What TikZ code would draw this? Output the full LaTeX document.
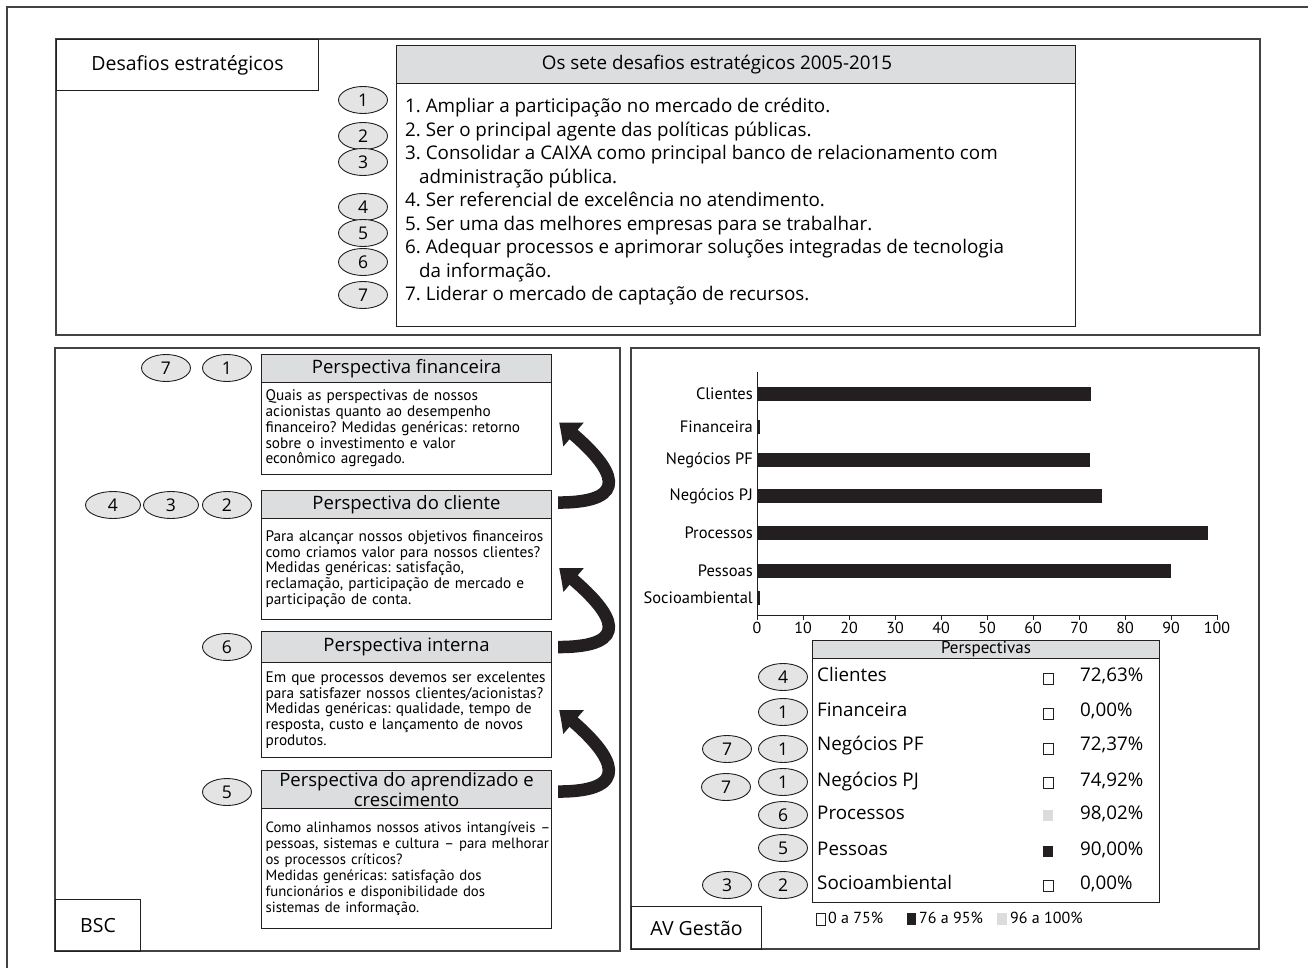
\documentclass[tikz,border=0pt]{standalone}
\usepackage{fontspec}
\setmainfont{Open Sans}
\newfontfamily\cond{PT Sans}
\usetikzlibrary{arrows.meta,bending,shapes.geometric}
\definecolor{ink}{HTML}{231F20}
\definecolor{hdr}{HTML}{DCDDDE}
\definecolor{ovl}{HTML}{E4E4E4}
\definecolor{lgray}{HTML}{DCDCDC}
\newcommand\lin[1]{\mbox{#1}}
\tikzset{
  panel/.style={draw=ink!85, line width=1.4pt},
  lbox/.style={draw=ink, line width=1.1pt, rectangle, inner sep=0, anchor=north west, font=\fontsize{19.5}{20}\selectfont},
  hdrbox/.style={draw=ink, line width=1.1pt, fill=hdr, rectangle, inner sep=0, anchor=north west, align=center, font=\fontsize{18.5}{17}\selectfont},
  pbox/.style={draw=ink, line width=1.1pt, rectangle, inner ysep=0, inner xsep=4, text width=282, anchor=north west, align=left, font=\cond\fontsize{15.3}{15.7}\selectfont},
  oval/.style={ellipse, draw=ink, line width=0.9pt, fill=ovl, minimum width=49, minimum height=27, inner sep=0, font=\fontsize{17.5}{17}\selectfont},
  bigarr/.style={draw=ink, line width=12.5pt, -{Triangle[width=30pt,length=19pt,bend]}},
  barlab/.style={anchor=east, inner sep=0, font=\cond\fontsize{16.5}{17}\selectfont},
  ticklab/.style={anchor=north, inner sep=0, font=\cond\fontsize{16}{16}\selectfont},
  rowlab/.style={anchor=west, inner sep=0, text height=13.2, text depth=3.8, font=\fontsize{18.8}{19}\selectfont},
  leglab/.style={anchor=west, inner sep=0, text height=11, text depth=3, font=\cond\fontsize{16}{16}\selectfont},
}
\begin{document}
\frenchspacing
\begin{tikzpicture}[x=1pt,y=-1pt]
\path[use as bounding box] (0,0) rectangle (1308,968);
% outer frame (cropped)
\draw[panel] (7,968) -- (7,7) -- (1308,7);

% ---------- top panel ----------
\draw[panel] (56,39) rectangle (1260,335);
\node[lbox, minimum width=262, minimum height=51] (desaf) at (56,39) {Desafios estratégicos};
\node[hdrbox, minimum width=679, minimum height=38, font=\fontsize{18.8}{18}\selectfont] (oshdr) at (396,45) {\hspace*{-38pt}Os sete desafios estratégicos 2005-2015};
\node[lbox, minimum width=679, minimum height=243] (osbox) at (396,83) {};
\node[anchor=north west, inner sep=0, align=left, font=\fontsize{18.8}{23.5}\selectfont] (list) at (405,98) {%
1. Ampliar a participação no mercado de crédito.\\
2. Ser o principal agente das políticas públicas.\\
3. Consolidar a CAIXA como principal banco de relacionamento com\\
\hspace*{14pt}administração pública.\\
4. Ser referencial de excelência no atendimento.\\
5. Ser uma das melhores empresas para se trabalhar.\\
6. Adequar processos e aprimorar soluções integradas de tecnologia\\
\hspace*{14pt}da informação.\\
7. Liderar o mercado de captação de recursos.};
\node[oval] (t1) at (363,100) {1};
\node[oval] (t2) at (363,136) {2};
\node[oval] (t3) at (363,162) {3};
\node[oval] (t4) at (363,207) {4};
\node[oval] (t5) at (363,233) {5};
\node[oval] (t6) at (363,262) {6};
\node[oval] (t7) at (363,295) {7};

% ---------- left panel (BSC) ----------
\draw[panel] (55,348) rectangle (620,951);
\node[lbox, minimum width=85, minimum height=52] (bsc) at (55,899) {BSC};

\node[hdrbox, minimum width=290, minimum height=28] (finH) at (261,354) {Perspectiva financeira};
\node[pbox, minimum height=92] (finC) at (261,382) {%
\lin{Quais as perspectivas de nossos}\\
\lin{acionistas quanto ao desempenho}\\
\lin{financeiro? Medidas genéricas: retorno}\\
\lin{sobre o investimento e valor}\\
\lin{econômico agregado.}};
\node[hdrbox, minimum width=290, minimum height=28] (cliH) at (261,490) {Perspectiva do cliente};
\node[pbox, minimum height=101] (cliC) at (261,518) {%
\lin{Para alcançar nossos objetivos financeiros}\\
\lin{como criamos valor para nossos clientes?}\\
\lin{Medidas genéricas: satisfação,}\\
\lin{reclamação, participação de mercado e}\\
\lin{participação de conta.}};
\node[hdrbox, minimum width=290, minimum height=31] (intH) at (261,631) {Perspectiva interna};
\node[pbox, minimum height=95] (intC) at (261,662) {%
\lin{Em que processos devemos ser excelentes}\\
\lin{para satisfazer nossos clientes/acionistas?}\\
\lin{Medidas genéricas: qualidade, tempo de}\\
\lin{resposta, custo e lançamento de novos}\\
\lin{produtos.}};
\node[hdrbox, minimum width=290, minimum height=38] (aprH) at (261,770) {Perspectiva do aprendizado e\\crescimento};
\node[pbox, minimum height=120, font=\cond\fontsize{14.8}{16}\selectfont] (aprC) at (261,808) {%
\lin{Como alinhamos nossos ativos intangíveis –}\\
\lin{pessoas, sistemas e cultura – para melhorar}\\
\lin{os processos críticos?}\\
\lin{Medidas genéricas: satisfação dos}\\
\lin{funcionários e disponibilidade dos}\\
\lin{sistemas de informação.}};

\node[oval] (f7) at (166,368) {7};
\node[oval] (f1) at (227,368) {1};
\node[oval, minimum width=55] (c4) at (113,505) {4};
\node[oval, minimum width=55] (c3) at (171,505) {3};
\node[oval] (c2) at (227,505) {2};
\node[oval] (i6) at (227,647) {6};
\node[oval] (a5) at (227,792) {5};

\draw[bigarr] ([xshift=6,yshift=2]cliH.east) .. controls +(84,0) and +(48,38) .. ([xshift=7,yshift=6]finC.east);
\draw[bigarr] ([xshift=6]intH.east) .. controls +(84,0) and +(48,38) .. ([xshift=7,yshift=1]cliC.east);
\draw[bigarr] ([xshift=6,yshift=-2]aprH.east) .. controls +(84,0) and +(48,38) .. ([xshift=7]intC.east);

% ---------- right panel (AV Gestao) ----------
\draw[panel] (631,348) rectangle (1259,949);
\node[lbox, minimum width=130, minimum height=43] (avg) at (631,906) {AV Gestão};

% bar chart
\foreach \y/\v/\l in {394/72.63/Clientes, 427/0.7/Financeira, 460/72.37/Negócios PF, 496/74.92/Negócios PJ, 533/98.02/Processos, 571/90/Pessoas, 598/0.7/Socioambiental}{
  \fill[ink] (757,\y-7) rectangle ({757+4.6*\v},\y+7);
  \node[barlab] at (753,\y) {\l};
}
\draw[ink, line width=1pt] (757,372) -- (757,615) -- (1217,615);
\foreach \i in {0,...,10}{
  \draw[ink, line width=1pt] (757+46*\i,615) -- ++(0,5);
  \pgfmathtruncatemacro{\t}{10*\i}
  \node[ticklab] at (757+46*\i,622) {\t};
}

% table
\node[hdrbox, line width=1pt, minimum width=347, minimum height=18, font=\cond\fontsize{17}{15}\selectfont] (tabH) at (812,640) {Perspectivas};
\node[lbox, line width=1pt, minimum width=347, minimum height=244] (tabB) at (812,658) {};
\foreach \y/\l/\p in {677/Clientes/{72,63}, 712/Financeira/{0,00}, 746/Negócios PF/{72,37}, 782/Negócios PJ/{74,92}, 815/Processos/{98,02}, 851/Pessoas/{90,00}, 885/Socioambiental/{0,00}}{
  \node[rowlab] at (817,\y) {\l};
  \node[rowlab] at (1080,\y) {\p\%};
}
\foreach \y in {678,713,748,782,885}{
  \draw[ink, line width=0.8pt] (1043,\y-5) rectangle (1053,\y+6);
}
\fill[lgray] (1043,810) rectangle (1053,821);
\fill[ink] (1043,846) rectangle (1053,857);

\node[oval] (r4) at (783,677) {4};
\node[oval] (r1a) at (783,712) {1};
\node[oval] (r7a) at (727,749) {7};
\node[oval] (r1b) at (783,749) {1};
\node[oval] (r7b) at (726,787) {7};
\node[oval] (r1c) at (783,782) {1};
\node[oval] (r6) at (783,815) {6};
\node[oval] (r5) at (783,848) {5};
\node[oval] (r3) at (727,885) {3};
\node[oval] (r2) at (783,885) {2};

% legend
\draw[ink, line width=0.8pt] (816,913) rectangle (825,925);
\node[leglab] (lg1) at (828,919) {0 a 75\%};
\fill[ink] (907,913) rectangle (916,925);
\node[leglab] (lg2) at (919,919) {76 a 95\%};
\fill[lgray] (997,913) rectangle (1007,925);
\node[leglab] (lg3) at (1010,919) {96 a 100\%};
\end{tikzpicture}
\end{document}
